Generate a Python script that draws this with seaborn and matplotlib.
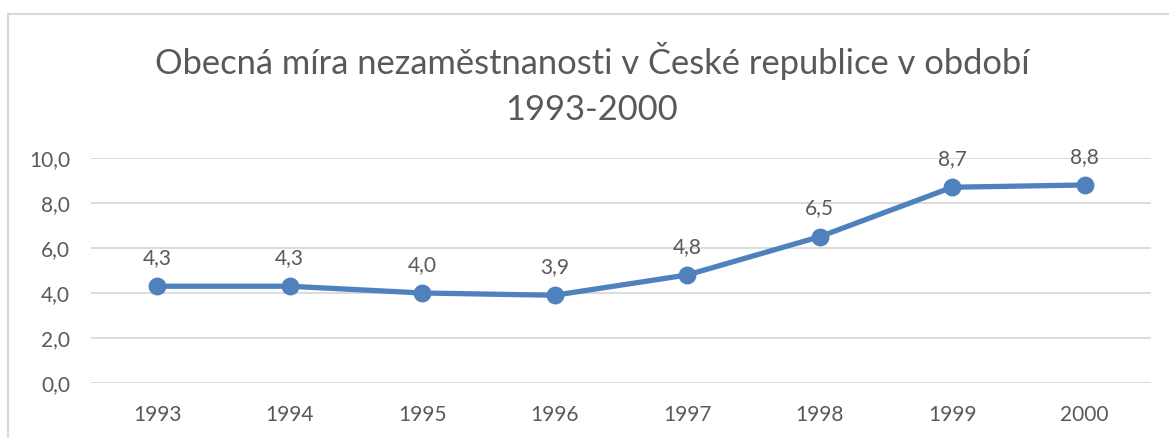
import matplotlib
matplotlib.use('Agg')
import matplotlib.pyplot as plt
import matplotlib.patches as patches
import seaborn as sns

# data
years = ['1993', '1994', '1995', '1996', '1997', '1998', '1999', '2000']
rate = [4.3, 4.3, 4.0, 3.9, 4.8, 6.5, 8.7, 8.8]
y_ticks = [0, 2, 4, 6, 8, 10]

sns.set_style('white')
plt.rcParams['font.family'] = ['Lato', 'DejaVu Sans']

text_col = '#595959'
line_col = '#4F81BD'
grid_col = '#D9D9D9'

fig = plt.figure(figsize=(11.69, 4.38), dpi=100)
ax = fig.add_axes([0.0778, 0.1256, 0.9067, 0.5137])

sns.pointplot(x=years, y=rate, ax=ax, color=line_col, markers='o',
              markersize=10, linewidth=3.8, errorbar=None)

ax.set_ylim(0, 10)
ax.set_xlim(-0.5, len(years) - 0.5)
ax.set_yticks(y_ticks)
ax.set_yticklabels([f'{t:.1f}'.replace('.', ',') for t in y_ticks])
ax.yaxis.grid(True, color=grid_col, linewidth=1.3)
ax.set_axisbelow(True)
for s in ax.spines.values():
    s.set_visible(False)
ax.tick_params(axis='y', length=0, pad=15, labelsize=15, labelcolor=text_col)
ax.tick_params(axis='x', length=0, pad=16, labelsize=15, labelcolor=text_col)
ax.set_xlabel('')
ax.set_ylabel('')

# value labels above points
for i, v in enumerate(rate):
    ax.annotate(f'{v:.1f}'.replace('.', ','), xy=(i, v), xytext=(0, 16),
                textcoords='offset points', ha='center', va='baseline',
                fontsize=15, color=text_col, annotation_clip=False)

fig.text(592 / 1169, 1 - 84 / 438,
         'Obecná míra nezaměstnanosti v České republice v období\n1993-2000',
         ha='center', va='center', fontsize=24.8, color=text_col, linespacing=1.5)

# light chart border like the spreadsheet frame
frame = patches.Rectangle((8 / 1169, -0.5), 1.5, 1.5 - 13.5 / 438,
                          transform=fig.transFigure, fill=False,
                          edgecolor=grid_col, linewidth=1.5)
fig.patches.append(frame)

fig.savefig('out.png', dpi=100)
